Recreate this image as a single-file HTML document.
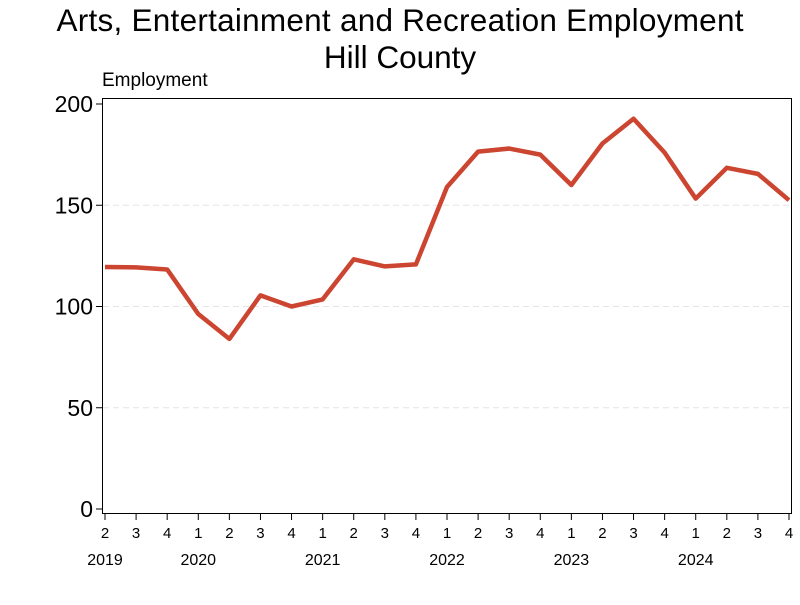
<!DOCTYPE html>
<html><head><meta charset="utf-8"><style>
body{margin:0;background:#fff;font-family:"Liberation Sans",sans-serif}
</style></head><body>
<svg width="800" height="600" xmlns="http://www.w3.org/2000/svg" font-family="Liberation Sans, sans-serif">
<rect width="800" height="600" fill="#fff"/>
<text x="400" y="31" font-size="31.5" text-anchor="middle" textLength="687">Arts, Entertainment and Recreation Employment</text>
<text x="400" y="68" font-size="31.5" text-anchor="middle">Hill County</text>
<text x="102" y="86" font-size="19">Employment</text>
<g id="grid"></g>
<rect x="102.5" y="98.5" width="689" height="415" fill="none" stroke="#000" stroke-width="1"/>
<g id="axes"></g>
<path id="line" fill="none" stroke="#cc4530" stroke-width="4.5" stroke-linejoin="round"/>
</svg>
<script>
const quarters=["2","3","4","1","2","3","4","1","2","3","4","1","2","3","4","1","2","3","4","1","2","3","4"];
const years=["2019","2020","2021","2022","2023","2024"];
const yearIdx=[0,3,7,11,15,19];
const values=[119.5,119.3,118.3,96.3,84,105.5,100,103.5,123.3,119.8,120.8,159,176.5,178,175,160,180.5,192.7,176,153.3,168.5,165.5,152.5];
const yTicks=[0,50,100,150,200];
const NS="http://www.w3.org/2000/svg";
const x=i=>105+i*(789-105)/(values.length-1);
const y=v=>509-v*(509-104)/200;
const grid=document.getElementById('grid'),axes=document.getElementById('axes');
function mk(t,a,p){const e=document.createElementNS(NS,t);for(const k in a)e.setAttribute(k,a[k]);p.appendChild(e);return e;}
yTicks.forEach(v=>{
 if(v>0&&v<200){const g=mk('line',{x1:103,x2:791,y1:y(v),y2:y(v),stroke:'#e4e4e4','stroke-dasharray':'6,4'},grid);
 
 }
 mk('line',{x1:96,x2:102,y1:y(v),y2:y(v),stroke:'#000'},axes);
 const t=mk('text',{x:93,y:y(v)+8,'font-size':23,'text-anchor':'end'},axes);t.textContent=v;
 
 
});
quarters.forEach((q,i)=>{
 mk('line',{x1:x(i),x2:x(i),y1:514,y2:520,stroke:'#000'},axes);
 const t=mk('text',{x:x(i),y:538,'font-size':15,'text-anchor':'middle'},axes);t.textContent=q;
 
 
});
years.forEach((yr,j)=>{
 const t=mk('text',{x:x(yearIdx[j]),y:565,'font-size':16,'text-anchor':'middle'},axes);t.textContent=yr;
 
 
});
document.getElementById('line').setAttribute('d',values.map((v,i)=>(i?'L':'M')+x(i)+','+y(v)).join(''));
</script>
</body></html>
